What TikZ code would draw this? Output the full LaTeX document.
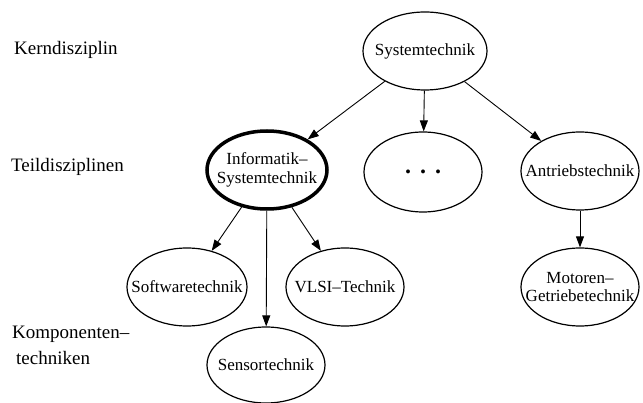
\documentclass[tikz,border=0pt]{standalone}
\usepackage{fontspec}
\setmainfont{Liberation Serif}
\usetikzlibrary{shapes.geometric,arrows.meta}
\begin{document}
\begin{tikzpicture}[x=1pt,y=-1pt,
  nd/.style={ellipse,draw,line width=1.2pt,inner sep=0pt},
  thicknd/.style={nd,line width=3.5pt},
  ntext/.style={align=center,inner sep=0pt,font=\fontsize{17}{18.5}\selectfont},
  lbl/.style={anchor=west,align=left,font=\fontsize{19}{26}\selectfont,inner sep=0pt},
  edge/.style={line width=0.9pt,-{Triangle[length=11pt,width=8pt]}}]
\useasboundingbox (0,0) rectangle (643,403);
\node[nd,minimum width=124pt,minimum height=78pt,label={[ntext]center:Systemtechnik}] (sys) at (425,51) {};
\node[thicknd,minimum width=120pt,minimum height=78pt,label={[ntext]center:Informatik–\\Systemtechnik}] (inf) at (267,170) {};
\node[nd,minimum width=118pt,minimum height=80pt,label={[ntext,font=\fontsize{24}{24}\bfseries]center:.\hspace{9pt}.\hspace{9pt}.}] (dots) at (423,172) {};
\node[nd,minimum width=118pt,minimum height=78pt,label={[ntext]center:Antriebstechnik}] (ant) at (580,171) {};
\node[nd,minimum width=120pt,minimum height=78pt,label={[ntext]center:Softwaretechnik}] (soft) at (187,287) {};
\node[nd,minimum width=118pt,minimum height=78pt,label={[ntext]center:VLSI–Technik}] (vlsi) at (345,287) {};
\node[nd,minimum width=118pt,minimum height=76pt,label={[ntext]center:Sensortechnik}] (sens) at (266,365) {};
\node[nd,minimum width=118pt,minimum height=78pt,label={[ntext]center:Motoren–\\Getriebetechnik}] (mot) at (580,287) {};
\node[lbl] (l1) at (14,50) {Kerndisziplin};
\node[lbl] (l2) at (11,167) {Teildisziplinen};
\node[lbl] (l3) at (12,345) {Komponenten–\\\hspace{4pt}techniken};
\draw[edge] (sys) -- (inf);
\draw[edge] (sys) -- (dots);
\draw[edge] (sys) -- (ant);
\draw[edge] (inf) -- (soft);
\draw[edge] (inf) -- (vlsi);
\draw[edge] (inf) -- (sens);
\draw[edge] (ant) -- (mot);
\end{tikzpicture}
\end{document}
